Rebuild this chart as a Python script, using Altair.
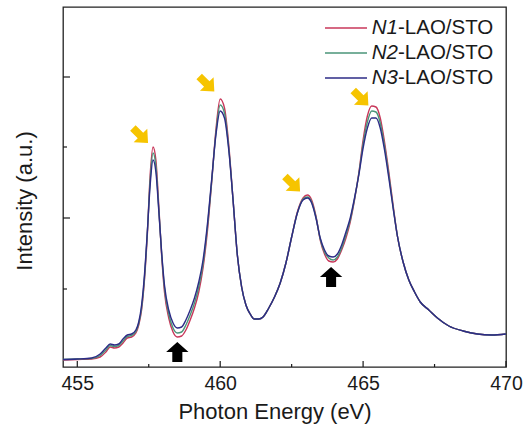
import altair as alt
import pandas as pd

# ---- data (energy in eV, intensity in arbitrary units) ----
energy = [454.5, 455.0, 455.5, 455.8, 456.0, 456.15, 456.3, 456.45, 456.6, 456.75,
          456.9, 457.05, 457.15, 457.25, 457.35, 457.45, 457.55, 457.65, 457.75, 457.85,
          457.95, 458.05, 458.2, 458.35, 458.5, 458.65, 458.8, 458.95, 459.1, 459.25,
          459.4, 459.55, 459.7, 459.85, 460.0, 460.15, 460.3, 460.45, 460.6, 460.75,
          460.9, 461.05, 461.2, 461.35, 461.5, 461.7, 461.9, 462.1, 462.3, 462.5,
          462.7, 462.9, 463.05, 463.2, 463.35, 463.5, 463.65, 463.8, 463.95, 464.1,
          464.25, 464.4, 464.55, 464.7, 464.85, 465.0, 465.15, 465.3, 465.45, 465.6,
          465.75, 465.9, 466.05, 466.2, 466.4, 466.6, 466.8, 467.0, 467.3, 467.6,
          468.0, 468.5, 469.0, 469.5, 470.0]

n1 = [0, 0.5, 1, 3, 8, 13, 12, 13, 17, 22,
      23, 27, 35, 50, 80, 125, 185, 213, 200, 155,
      105, 68, 42, 28, 23, 24, 30, 40, 52, 68,
      92, 128, 177, 230, 261, 252, 215, 160, 105, 73,
      55, 46, 41, 41, 43, 52, 63, 77, 97, 123,
      148, 162, 165, 160, 144, 120, 106, 99, 98, 101,
      110, 122, 138, 160, 187, 220, 244, 254, 253, 242,
      218, 188, 155, 124, 98, 80, 68, 58, 50, 42,
      34, 29, 26, 25, 26]

n2 = [0.5, 1, 1.5, 4.5, 10, 14.5, 13.5, 14.5, 19, 23.5,
      24.5, 28.5, 36.5, 52, 82, 127, 180, 207, 194, 152,
      107, 72, 46, 32, 27, 28, 35, 45, 57, 73,
      96, 132, 178, 227, 255, 247, 212, 160, 105, 73,
      55, 46, 41, 41, 43, 52, 63, 77, 97, 123,
      147, 161, 163, 158, 143, 121, 108, 102, 100, 103,
      112, 125, 140, 161, 186, 216, 238, 249, 248, 237,
      214, 185, 153, 124, 98, 80, 68, 58, 50, 42,
      34, 29, 26, 25, 26]

n3 = [0.5, 1, 2, 6, 12, 16, 15, 16, 21, 25,
      26, 30, 38, 55, 85, 128, 175, 200, 188, 150,
      108, 75, 50, 37, 32, 33, 40, 50, 62, 78,
      100, 135, 180, 225, 249, 242, 210, 160, 105, 73,
      55, 46, 41, 41, 43, 52, 63, 77, 97, 123,
      147, 160, 162, 157, 142, 122, 110, 104, 103, 106,
      115, 128, 142, 162, 185, 212, 232, 242, 242, 232,
      210, 182, 152, 124, 98, 80, 68, 58, 50, 42,
      34, 29, 26, 25, 26]

series_prefix = ["N1", "N2", "N3"]
series_suffix = "-LAO/STO"
series_colors = ["#C8375A", "#4A9479", "#2D2B86"]

x_title = "Photon Energy (eV)"
y_title = "Intensity (a.u.)"

x_ticks_major = [455, 460, 465, 470]
x_ticks_minor = [457.5, 462.5, 467.5]
y_ticks_major = [142, 283]
y_ticks_minor = [71, 213]

yellow_arrow_e = [457.21, 459.53, 462.53, 464.92]
yellow_arrow_i = [224.5, 276, 176, 262]
black_arrow_e = [458.5, 463.88]
black_arrow_i = [8, 83]

# ---- layout / style ----
W, H = 443, 360
FONT = "Liberation Sans"
INK = "#1a1a1a"

x_scale = alt.Scale(domain=[454.5, 470], nice=False, zero=False)
y_scale = alt.Scale(domain=[-7, 353], nice=False, zero=False)

x_axis = alt.Axis(values=x_ticks_major, format="d", ticks=False, domain=False, grid=False,
                  labelFont=FONT, labelFontSize=19.5, labelColor=INK, labelPadding=7,
                  labelFlush=False, title=None)
y_axis = alt.Axis(labels=False, ticks=False, domain=False, grid=False, title=None)

X = alt.X("energy:Q", scale=x_scale, axis=x_axis)
Y = alt.Y("intensity:Q", scale=y_scale, axis=y_axis)

layers = []
for vals, col in zip([n1, n2, n3], series_colors):
    df = pd.DataFrame({"energy": energy, "intensity": vals})
    layers.append(
        alt.Chart(df).mark_line(color=col, strokeWidth=1.4, interpolate="monotone")
        .encode(x=X, y=Y)
    )

# inward ticks
layers.append(alt.Chart(pd.DataFrame({"intensity": y_ticks_major})).mark_rule(color=INK, strokeWidth=1.2)
              .encode(y=Y, x=alt.value(0), x2=alt.value(7)))
layers.append(alt.Chart(pd.DataFrame({"intensity": y_ticks_minor})).mark_rule(color=INK, strokeWidth=1.2)
              .encode(y=Y, x=alt.value(0), x2=alt.value(4)))
layers.append(alt.Chart(pd.DataFrame({"energy": x_ticks_major})).mark_rule(color=INK, strokeWidth=1.2)
              .encode(x=X, y=alt.value(H), y2=alt.value(H - 6)))
layers.append(alt.Chart(pd.DataFrame({"energy": x_ticks_minor})).mark_rule(color=INK, strokeWidth=1.2)
              .encode(x=X, y=alt.value(H), y2=alt.value(H - 3)))

# arrows
yellow_path = "M-1,-0.36L0.0,-0.36L0.0,-0.9L1,0L0.0,0.9L0.0,0.36L-1,0.36Z"
black_path = "M-0.45,0.9L-0.45,0L-1,0L0,-0.9L1,0L0.45,0L0.45,0.9Z"
layers.append(alt.Chart(pd.DataFrame({"energy": yellow_arrow_e, "intensity": yellow_arrow_i}))
              .mark_point(shape=yellow_path, filled=True, color="#F6C400", size=460, angle=45,
                          opacity=1, strokeWidth=0)
              .encode(x=X, y=Y))
layers.append(alt.Chart(pd.DataFrame({"energy": black_arrow_e, "intensity": black_arrow_i}))
              .mark_point(shape=black_path, filled=True, color="#000000", size=500,
                          opacity=1, strokeWidth=0)
              .encode(x=X, y=Y))

one = pd.DataFrame({"k": [0]})

# axis titles
layers.append(alt.Chart(one).mark_text(text=x_title, font=FONT, fontSize=22, align="center",
                                       baseline="middle", color=INK)
              .encode(x=alt.value(212), y=alt.value(405)))
layers.append(alt.Chart(one).mark_text(text=y_title, font=FONT, fontSize=22, align="center",
                                       baseline="middle", angle=270, color=INK)
              .encode(x=alt.value(-38), y=alt.value(194)))

# legend (custom, to allow italic sample names)
for i, (pre, col) in enumerate(zip(series_prefix, series_colors)):
    yy = 21 + 25 * i
    layers.append(alt.Chart(one).mark_rule(color=col, strokeWidth=1.4)
                  .encode(x=alt.value(262), x2=alt.value(304), y=alt.value(yy)))
    layers.append(alt.Chart(one).mark_text(text=pre, font=FONT, fontSize=20.5, fontStyle="italic",
                                           align="right", baseline="middle", color=INK)
                  .encode(x=alt.value(335), y=alt.value(yy)))
    layers.append(alt.Chart(one).mark_text(text=series_suffix, font=FONT, fontSize=20.5,
                                           align="left", baseline="middle", color=INK)
                  .encode(x=alt.value(335), y=alt.value(yy)))

chart = (
    alt.layer(*layers)
    .properties(width=W, height=H, background="white",
                autosize=alt.AutoSizeParams(type="none"),
                padding={"left": 63, "top": 7, "right": 20, "bottom": 60})
    .configure_view(stroke="#222222", strokeWidth=1.3)
)

chart.save("out.html", embed_options={"renderer": "svg", "actions": False})
